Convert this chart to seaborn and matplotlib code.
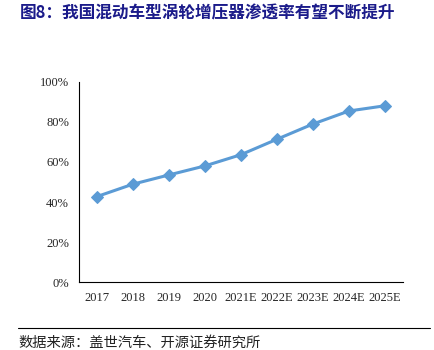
import matplotlib
matplotlib.use("Agg")
import matplotlib.pyplot as plt
import seaborn as sns
import pandas as pd
from matplotlib.ticker import FuncFormatter
from matplotlib.lines import Line2D

categories = ["2017", "2018", "2019", "2020", "2021E", "2022E", "2023E", "2024E", "2025E"]
values = [42.7, 48.9, 53.5, 58.0, 63.6, 71.3, 78.9, 85.4, 88.0]
title = "图8：我国混动车型涡轮增压器渗透率有望不断提升"
source = "数据来源：盖世汽车、开源证券研究所"

sns.set_style("white")
plt.rcParams['font.family'] = ['Liberation Serif', 'Noto Sans CJK SC']

df = pd.DataFrame({"year": categories, "rate": values})
df["pos"] = range(len(categories))

fig = plt.figure(figsize=(4.34, 3.5), dpi=100)
ax = fig.add_axes([0.1813, 0.1934, 0.7473, 0.5732])

color = "#5B9BD5"
sns.lineplot(data=df, x="pos", y="rate", ax=ax, color=color, linewidth=2.2,
             marker="D", markersize=6, markeredgecolor=color, markerfacecolor=color)

ax.set_xlim(-0.5, len(categories) - 0.5)
ax.set_ylim(0, 100)
ax.set_yticks([0, 20, 40, 60, 80, 100])
ax.yaxis.set_major_formatter(FuncFormatter(lambda v, p: f"{int(v)}%"))
ax.set_xticks([i for i in range(len(categories))])
ax.set_xticklabels(categories)
ax.set_xticks([i - 0.5 for i in range(len(categories) + 1)], minor=True)
ax.tick_params(axis="x", which="major", length=0, pad=7, labelsize=9)
ax.tick_params(axis="x", which="minor", length=4, width=0.8, direction="out", color="black")
ax.tick_params(axis="y", which="major", length=4, width=0.8, direction="out", labelsize=9, pad=3, color="black")
ax.set_xlabel("")
ax.set_ylabel("")
for s in ["top", "right"]:
    ax.spines[s].set_visible(False)
for s in ["left", "bottom"]:
    ax.spines[s].set_color("black")
    ax.spines[s].set_linewidth(0.8)

fig.text(0.046, 0.962, title, fontsize=12, fontweight="bold", color="#1B1B8A",
         family=['Noto Sans CJK SC'], va="center", ha="left")

fig.add_artist(Line2D([0.042, 0.99], [0.063, 0.063], transform=fig.transFigure,
                      color="black", linewidth=0.8))
fig.text(0.042, 0.022, source, fontsize=10.3, color="#222222",
         family=['Noto Sans CJK SC'], va="center", ha="left")

fig.savefig("out.png", dpi=100)
